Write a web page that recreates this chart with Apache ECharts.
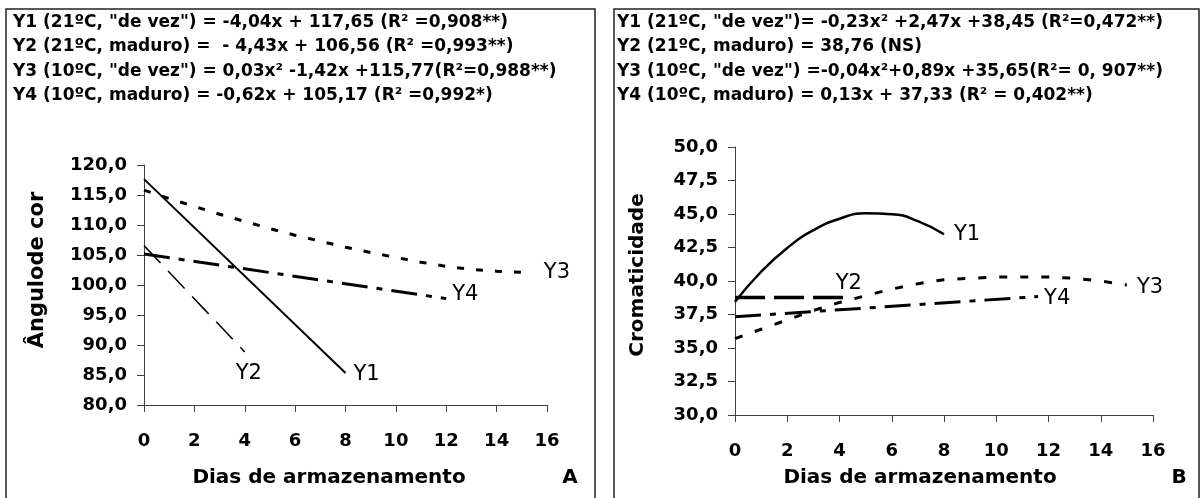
<!DOCTYPE html>
<html>
<head>
<meta charset="utf-8">
<script src="https://cdn.jsdelivr.net/npm/echarts@6/dist/echarts.min.js"></script>
<style>html,body{margin:0;padding:0;background:#fff}#c{width:1202px;height:498px}</style>
</head>
<body>
<div id="c"></div>
<script>
// ---- data ----
const xTicks = [0, 2, 4, 6, 8, 10, 12, 14, 16];

// Panel A: Ângulo de cor
const aY1Days = [0, 8];
const aY1 = [117.65, 85.33];
const aY2Days = [0, 4];
const aY2 = [106.56, 88.84];
const aY3Days = [0, 1, 2, 3, 4, 5, 6, 7, 8, 9, 10, 11, 12, 13, 14, 15];
const aY3 = [115.8, 114.4, 113.1, 111.8, 110.6, 109.4, 108.3, 107.3, 106.3, 105.4, 104.6, 103.8, 103.1, 102.6, 102.3, 102.1];
const aY4Days = [0, 12];
const aY4 = [105.17, 97.73];

// Panel B: Cromaticidade
const bY1Days = [0, 1, 2, 3, 4, 5, 6, 7, 8];
const bY1 = [38.45, 40.69, 42.47, 43.79, 44.65, 45.05, 44.99, 44.47, 43.49];
const bY2Days = [0, 4.2];
const bY2 = [38.76, 38.76];
const bY3Days = [0, 1, 2, 3, 4, 5, 6, 7, 8, 9, 10, 11, 12, 13, 14, 15];
const bY3 = [35.7, 36.4, 37.1, 37.8, 38.4, 38.9, 39.4, 39.8, 40.1, 40.2, 40.3, 40.3, 40.3, 40.2, 40.0, 39.7];
const bY4Days = [0, 11.6];
const bY4 = [37.33, 38.84];

const headerA = [
  'Y1 (21ºC, "de vez") = -4,04x + 117,65 (R² =0,908**)',
  'Y2 (21ºC, maduro) =  - 4,43x + 106,56 (R² =0,993**)',
  'Y3 (10ºC, "de vez") = 0,03x² -1,42x +115,77(R²=0,988**)',
  'Y4 (10ºC, maduro) = -0,62x + 105,17 (R² =0,992*)'
];
const headerB = [
  'Y1 (21ºC, "de vez")= -0,23x² +2,47x +38,45 (R²=0,472**)',
  'Y2 (21ºC, maduro) = 38,76 (NS)',
  'Y3 (10ºC, "de vez") =-0,04x²+0,89x +35,65(R²= 0, 907**)',
  'Y4 (10ºC, maduro) = 0,13x + 37,33 (R² = 0,402**)'
];

// ---- helpers ----
const zip = (xs, ys) => xs.map((x, i) => [x, ys[i]]);
const FONT = '"DejaVu Sans", sans-serif';
const comma = v => v.toFixed(1).replace('.', ',');
const axisLineStyle = { color: '#404040', width: 1 };

function xAxisCfg(gridIndex) {
  return {
    type: 'value', gridIndex, min: 0, max: 16, interval: 2,
    axisLine: { show: true, lineStyle: axisLineStyle },
    axisTick: { show: true, length: 7, lineStyle: axisLineStyle },
    splitLine: { show: false },
    axisLabel: { color: '#000', fontFamily: FONT, fontWeight: 'bold', fontSize: 18, margin: 27 }
  };
}
function yAxisCfg(gridIndex, min, max, interval) {
  return {
    type: 'value', gridIndex, min, max, interval,
    axisLine: { show: true, lineStyle: axisLineStyle },
    axisTick: { show: true, length: 7, lineStyle: axisLineStyle },
    splitLine: { show: false },
    axisLabel: { color: '#000', fontFamily: FONT, fontWeight: 'bold', fontSize: 18, margin: 17, formatter: comma }
  };
}
function line(name, xs, ys, gi, style, label, offset) {
  return {
    type: 'line', name, xAxisIndex: gi, yAxisIndex: gi,
    data: zip(xs, ys), showSymbol: false, symbol: 'none',
    smooth: style.smooth || false, animation: false,
    lineStyle: { color: '#000', width: style.width, type: style.dash || 'solid', cap: 'butt' },
    endLabel: { show: true, formatter: label, color: '#000', fontFamily: FONT, fontSize: 21,
                distance: 4, offset }
  };
}

const headerText = (lines, x) => lines.map((t, i) => ({
  type: 'text', left: x, top: 14 + i * 24.5,
  style: { text: t, fill: '#000', font: 'bold 17px ' + FONT }
}));

const chart = echarts.init(document.getElementById('c'), null, { renderer: 'canvas' });
chart.setOption({
  animation: false,
  backgroundColor: '#fff',
  grid: [
    { left: 144, top: 165, width: 403, height: 240 },
    { left: 735, top: 147, width: 418, height: 268 }
  ],
  xAxis: [xAxisCfg(0), xAxisCfg(1)],
  yAxis: [yAxisCfg(0, 80, 120, 5), yAxisCfg(1, 30, 50, 2.5)],
  series: [
    line('Y1', aY1Days, aY1, 0, { width: 2 }, 'Y1', [4, 2]),
    line('Y2', aY2Days, aY2, 0, { width: 1.5, dash: [24, 11] }, 'Y2', [-13, 22]),
    line('Y3', aY3Days, aY3, 0, { width: 3, dash: [7, 12] }, 'Y3', [18, 0]),
    line('Y4', aY4Days, aY4, 0, { width: 3, dash: [26, 9, 6, 9] }, 'Y4', [2, -4]),
    line('Y1', bY1Days, bY1, 1, { width: 2.5, smooth: true }, 'Y1', [6, 0]),
    line('Y2', bY2Days, bY2, 1, { width: 3.5, dash: [30, 9] }, 'Y2', [-13, -14]),
    line('Y3', bY3Days, bY3, 1, { width: 3, dash: [8, 13] }, 'Y3', [6, 3]),
    line('Y4', bY4Days, bY4, 1, { width: 3, dash: [26, 9, 6, 9] }, 'Y4', [2, 2])
  ],
  graphic: [
    { type: 'rect', shape: { x: 6, y: 9, width: 589, height: 500 }, style: { fill: 'none', stroke: '#222', lineWidth: 1.5 } },
    { type: 'rect', shape: { x: 614, y: 9, width: 585, height: 500 }, style: { fill: 'none', stroke: '#222', lineWidth: 1.5 } },
    ...headerText(headerA, 13),
    ...headerText(headerB, 617),
    { type: 'text', x: 38, y: 270, rotation: Math.PI / 2,
      style: { text: 'Ângulode cor', fill: '#000', font: 'bold 21px ' + FONT, align: 'center', verticalAlign: 'middle' } },
    { type: 'text', x: 638, y: 275, rotation: Math.PI / 2,
      style: { text: 'Cromaticidade', fill: '#000', font: 'bold 20px ' + FONT, align: 'center', verticalAlign: 'middle' } },
    { type: 'text', x: 329, y: 478,
      style: { text: 'Dias de armazenamento', fill: '#000', font: 'bold 20px ' + FONT, align: 'center', verticalAlign: 'middle' } },
    { type: 'text', x: 920, y: 478,
      style: { text: 'Dias de armazenamento', fill: '#000', font: 'bold 20px ' + FONT, align: 'center', verticalAlign: 'middle' } },
    { type: 'text', x: 570, y: 478,
      style: { text: 'A', fill: '#000', font: 'bold 20px ' + FONT, align: 'center', verticalAlign: 'middle' } },
    { type: 'text', x: 1179, y: 478,
      style: { text: 'B', fill: '#000', font: 'bold 20px ' + FONT, align: 'center', verticalAlign: 'middle' } }
  ]
});
</script>
</body>
</html>
